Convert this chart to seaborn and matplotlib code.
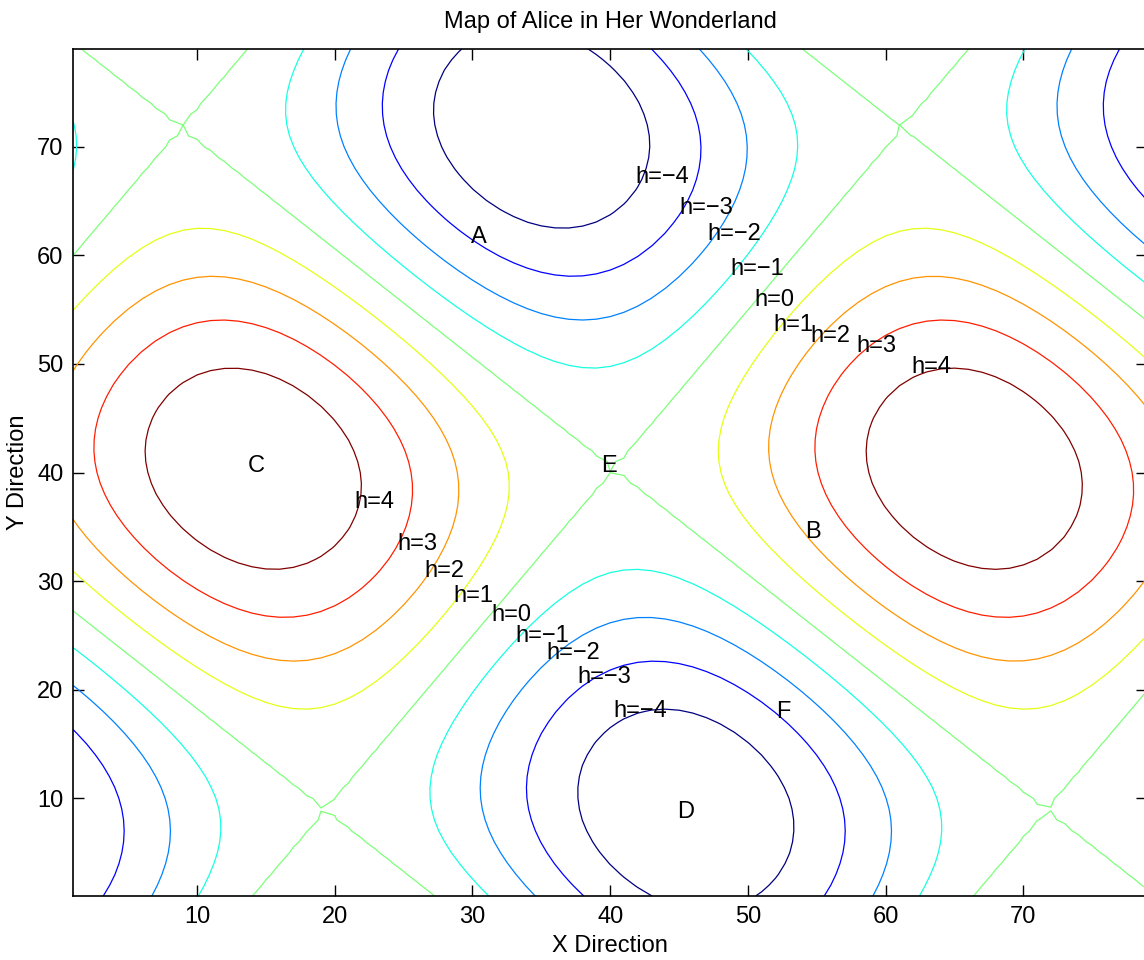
import numpy as np
import matplotlib
matplotlib.use('Agg')
import matplotlib.pyplot as plt
import seaborn as sns

# ===== 数据=====
# 地形是两组互相交叉的直线零等高线（绿色）组成的"蛋盒"曲面
saddle_x, saddle_y = 40.26, 40.35    # 鞍点 E
slope_up = 1.5                       # "/" 方向绿线斜率
slope_down = -1.0                    # "\" 方向绿线斜率
line_gap = 52.35                     # 同向绿线之间的水平间距
peak_height = 5.0                    # 山峰高度 (C, B) / 谷底深度 (A, D)
grid_x = np.arange(1, 80)
grid_y = np.arange(1, 80)

levels = [-4, -3, -2, -1, 0, 1, 2, 3, 4]

# 等高线标签
upper_labels = ['h=\u22124', 'h=\u22123', 'h=\u22122', 'h=\u22121', 'h=0', 'h=1', 'h=2', 'h=3', 'h=4']
upper_x = [43.8, 47.0, 49.0, 50.7, 51.9, 53.3, 56.0, 59.3, 63.3]
upper_y = [66.7, 63.8, 61.4, 58.2, 55.3, 53.0, 52.0, 51.1, 49.2]
lower_labels = ['h=4', 'h=3', 'h=2', 'h=1', 'h=0', 'h=\u22121', 'h=\u22122', 'h=\u22123', 'h=\u22124']
lower_x = [22.9, 26.0, 28.0, 30.1, 32.8, 35.1, 37.3, 39.6, 42.2]
lower_y = [36.7, 32.9, 30.4, 28.1, 26.3, 24.4, 22.8, 20.6, 17.5]

# 地点字母
places = ['A', 'B', 'C', 'D', 'E', 'F']
place_x = [30.5, 54.7, 14.3, 45.5, 39.9, 52.6]
place_y = [61.1, 34.0, 40.0, 8.2, 40.0, 17.4]

# ===== 曲面 =====
X, Y = np.meshgrid(grid_x, grid_y)
dx = X - saddle_x
dy = Y - saddle_y
P = np.pi * (dy / slope_up - dx) / line_gap
Q = np.pi * (dy / abs(slope_down) + dx) / line_gap
H = -peak_height * np.sin(P) * np.sin(Q)

# ===== 绘图 =====
sns.set_style('ticks')
plt.rcParams['font.family'] = ['Liberation Sans', 'DejaVu Sans']
plt.rcParams['font.size'] = 17
plt.rcParams['text.color'] = 'black'
plt.rcParams['axes.labelcolor'] = 'black'
plt.rcParams['xtick.direction'] = 'in'
plt.rcParams['ytick.direction'] = 'in'

fig = plt.figure(figsize=(11.44, 9.6), dpi=100)
ax = fig.add_axes([73 / 1144, 64 / 960, (1147.3 - 73) / 1144, (896 - 49) / 960])

ax.contour(X, Y, H, levels=levels, cmap='jet', linewidths=0.9)

for t, x, y in zip(upper_labels, upper_x, upper_y):
    ax.text(x, y, t, ha='center', va='baseline', fontsize=17, color='black')
for t, x, y in zip(lower_labels, lower_x, lower_y):
    ax.text(x, y, t, ha='center', va='baseline', fontsize=17, color='black')
for t, x, y in zip(places, place_x, place_y):
    ax.text(x, y, t, ha='center', va='baseline', fontsize=17, color='black')

ax.set_xlim(1, 79)
ax.set_ylim(1, 79)
ax.set_xticks([10, 20, 30, 40, 50, 60, 70])
ax.set_yticks([10, 20, 30, 40, 50, 60, 70])
ax.tick_params(which='both', direction='in', length=8, width=1, colors='black',
               top=True, right=True, labelsize=17, pad=7)
for s in ax.spines.values():
    s.set_linewidth(1.2)
    s.set_color('black')

ax.set_title('Map of Alice in Her Wonderland', fontsize=17, pad=15, color='black')
ax.set_xlabel('X Direction', fontsize=17, labelpad=5)
ax.set_ylabel('Y Direction', fontsize=17, labelpad=6)

fig.savefig('out.png', dpi=100)
